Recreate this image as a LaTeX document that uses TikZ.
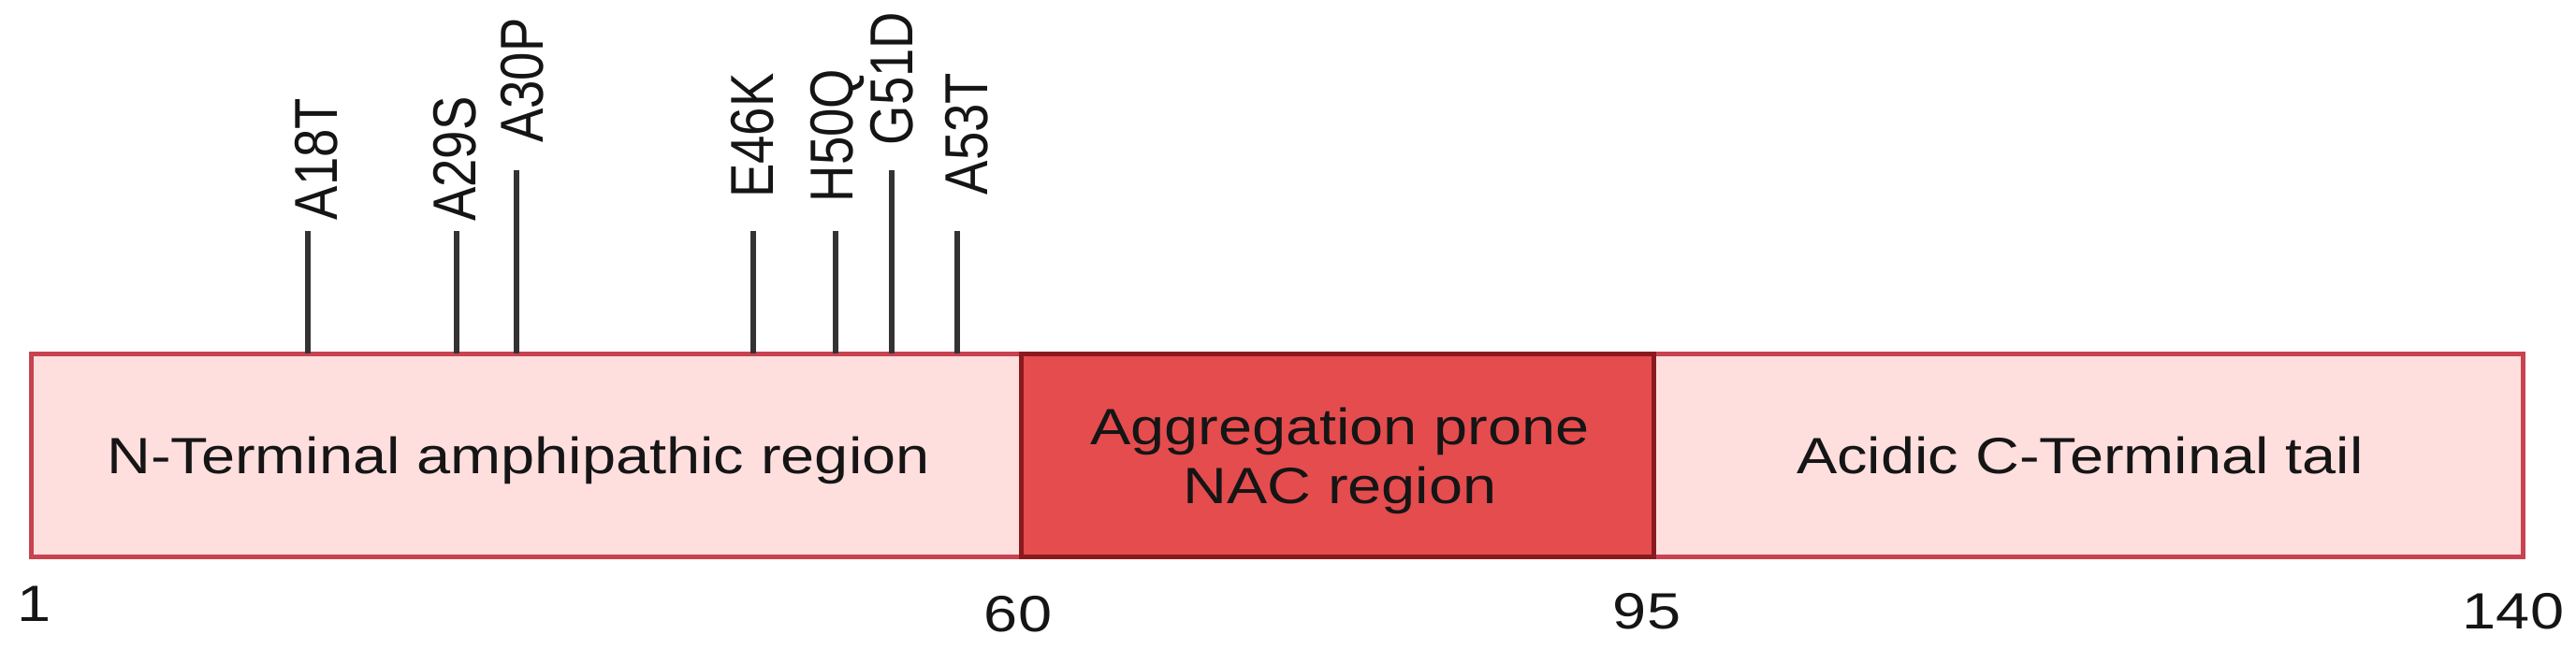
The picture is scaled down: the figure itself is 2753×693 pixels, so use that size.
\documentclass[tikz,border=0pt]{standalone}
\usepackage{fontspec}
\setmainfont{Liberation Sans}
\usepackage{graphicx}
\definecolor{regfill}{HTML}{FFDEDE}
\definecolor{regborder}{HTML}{C8434F}
\definecolor{nacfill}{HTML}{E54C4E}
\definecolor{nacborder}{HTML}{8B1A1E}
\definecolor{linegray}{HTML}{333333}
\definecolor{txt}{HTML}{151515}
\newcommand{\hx}[1]{\scalebox{1.19}[1]{#1}}
\newcommand{\vx}[1]{\scalebox{1}[1.19]{#1}}
\tikzset{
  region/.style={draw=regborder, fill=regfill, line width=5pt},
  nacbox/.style={draw=nacborder, fill=nacfill, line width=5pt},
  lbl/.style={inner sep=0pt, outer sep=0pt, text=txt, font=\fontsize{54.5}{63}\selectfont, text height=39pt, text depth=0pt},
  mut/.style={lbl, rotate=90, text height=46.4pt},
  mline/.style={draw=linegray, line width=6pt},
}
\begin{document}
\begin{tikzpicture}[x=1pt, y=-1pt]
\useasboundingbox (0,0) rectangle (2753,693);
% regions
\draw[region] (33,378) rectangle (1091,595);
\draw[region] (1767,378) rectangle (2696,595);
\draw[nacbox] (1091,378) rectangle (1767,595);
% region labels
\node[lbl] (nterm) at (554,487) {\hx{N-Terminal amphipathic region}};
\node[lbl] (nacA) at (1432,456) {\hx{Aggregation prone}};
\node[lbl] (nacB) at (1432,519) {\hx{NAC region}};
\node[lbl] (cterm) at (2223,487) {\hx{Acidic C-Terminal tail}};
% position numbers
\node[lbl] (p1) at (37,645) {\hx{1}};
\node[lbl] (p60) at (1088,656) {\hx{60}};
\node[lbl] (p95) at (1760,653) {\hx{95}};
\node[lbl] (p140) at (2686,653) {\hx{140}};
% mutation sticks
\coordinate (b18) at (329,378);  \coordinate (t18) at (329,247);
\coordinate (b29) at (488,378);  \coordinate (t29) at (488,247);
\coordinate (b30) at (552,378);  \coordinate (t30) at (552,182);
\coordinate (b46) at (805,378);  \coordinate (t46) at (805,247);
\coordinate (b50) at (893,378);  \coordinate (t50) at (893,247);
\coordinate (b51) at (953,378);  \coordinate (t51) at (953,182);
\coordinate (b53) at (1023,378); \coordinate (t53) at (1023,247);
\draw[mline] (b18) -- (t18);
\draw[mline] (b29) -- (t29);
\draw[mline] (b30) -- (t30);
\draw[mline] (b46) -- (t46);
\draw[mline] (b50) -- (t50);
\draw[mline] (b51) -- (t51);
\draw[mline] (b53) -- (t53);
% mutation labels
\node[mut] (mA18T) at (337,170) {\vx{A18T}};
\node[mut] (mA29S) at (485,170) {\vx{A29S}};
\node[mut] (mA30P) at (557,86) {\vx{A30P}};
\node[mut] (mE46K) at (803,145) {\vx{E46K}};
\node[mut] (mH50Q) at (888,145) {\vx{H50Q}};
\node[mut] (mG51D) at (952,84) {\vx{G51D}};
\node[mut] (mA53T) at (1032,143) {\vx{A53T}};
\end{tikzpicture}
\end{document}
